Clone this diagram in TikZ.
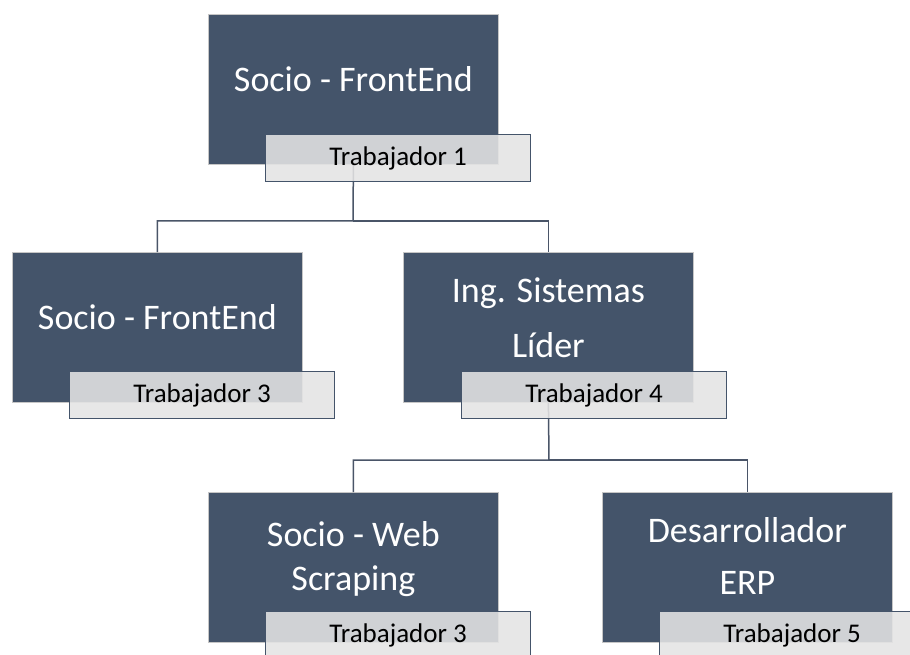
\documentclass[tikz,border=0pt]{standalone}
\usepackage{fontspec}
\setmainfont{Carlito}
\definecolor{slate}{HTML}{44546A}
\definecolor{lblfill}{HTML}{E4E4E4}
\definecolor{lineg}{HTML}{4A5568}
\begin{document}
\begin{tikzpicture}[x=1pt,y=-1pt,
  darkbox/.style={draw=gray!45,line width=0.8pt,fill=slate,minimum width=290pt,minimum height=150pt,inner sep=0pt,anchor=north west},
  boxtext/.style={text=white,font=\fontsize{36}{52}\selectfont,align=center},
  lbl/.style={draw=slate,line width=1.3pt,fill=lblfill,fill opacity=0.88,text opacity=1,minimum width=265pt,minimum height=47pt,inner sep=0pt,anchor=north west,font=\fontsize{27}{30}\selectfont,text=black},
  conn/.style={draw=lineg,line width=1.5pt}]
\useasboundingbox (0,0) rectangle (910,655);
\fill[white] (0,0) rectangle (910,655);
% boxes
\node[darkbox] (b1) at (208,14) {};
\node[darkbox] (b2) at (12,252) {};
\node[darkbox] (b3) at (403,252) {};
\node[darkbox] (b4) at (208,492) {};
\node[darkbox] (b5) at (602,492) {};
% connectors
\coordinate (j1) at (353,221);
\coordinate (j2) at (549,460);
\draw[conn] (b1.south) -- (j1) -| (b2.north);
\draw[conn] (j1) -| (b3.north);
\draw[conn] (b3.south) -- (j2) -| (b4.north);
\draw[conn] (j2) -| (b5.north);
% texts
\node[boxtext] (t1) at ([yshift=10pt]b1.center) {Socio - FrontEnd};
\node[boxtext] (t2) at ([yshift=10pt]b2.center) {Socio - FrontEnd};
\node[boxtext] (t3) at ([yshift=10pt]b3.center) {Ing. Sistemas\\[3pt]Líder};
\node[boxtext] (t4) at ([yshift=8pt]b4.center) {Socio - Web\\[-8pt]Scraping};
\node[boxtext] (t5) at ([yshift=11pt]b5.center) {Desarrollador\\ERP};
% labels
\node[lbl] (l1) at (265,134) {Trabajador 1};
\node[lbl] (l2) at (69,371) {Trabajador 3};
\node[lbl] (l3) at (461,371) {Trabajador 4};
\node[lbl] (l4) at (265,611) {Trabajador 3};
\node[lbl] (l5) at (659,611) {Trabajador 5};
\end{tikzpicture}
\end{document}
